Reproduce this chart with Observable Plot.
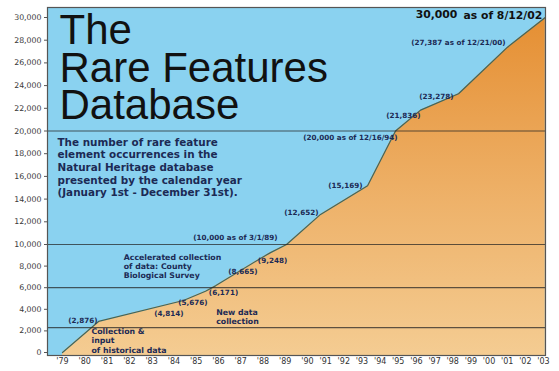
<!DOCTYPE html>
<html><head><meta charset="utf-8">
<script src="https://cdn.jsdelivr.net/npm/d3@7"></script>
<script src="https://cdn.jsdelivr.net/npm/@observablehq/plot@0.6"></script>
<style>
html,body{margin:0;padding:0;background:#fff;}
#chart{width:559px;height:371px;overflow:hidden;}
</style></head><body><div id="chart"></div>
<script>
// ---- data ----
const years = d3.range(1979, 2004);
const yTicks = d3.range(0, 30001, 2000);
const pointYears  = [1979.0, 1980.62, 1984.43, 1985.42, 1985.87, 1987.85, 1988.34, 1989.06, 1990.72, 1993.31, 1994.85, 1996.23, 1998.32, 2001.02, 2003.1];
const pointValues = [0, 2876, 4814, 5676, 6171, 8665, 9248, 10000, 12652, 15169, 20000, 21836, 23278, 27387, 30000];
const pointLabels = ["", "(2,876)", "(4,814)", "(5,676)", "(6,171)", "(8,665)", "(9,248)", "(10,000 as of 3/1/89)", "(12,652)", "(15,169)", "(20,000 as of 12/16/94)", "(21,836)", "(23,278)", "(27,387 as of 12/21/00)", "30,000"];
const lastNote = "as of 8/12/02";
const phaseLines = [2300, 6000, 10000, 20000];
const phaseNotes = [
  {text: "Collection &\ninput\nof historical data", year: 1980.3, value: 2300},
  {text: "New data\ncollection", year: 1985.9, value: 4100},
  {text: "Accelerated collection\nof data: County\nBiological Survey", year: 1981.75, value: 9200}
];
const titleLines = ["The", "Rare Features", "Database"];
const description = "The number of rare feature\nelement occurrences in the\nNatural Heritage database\npresented by the calendar year\n(January 1st - December 31st).";

const data = pointYears.map((y, i) => ({year: y, value: pointValues[i], label: pointLabels[i]}));

// ---- layout of labels (offsets in px) ----
const labelLayout = [null, [-1,-1,"end"], [0,13,"end"], [2,11,"end"], [8,7,"middle"], [-2,13,"end"], [2,8,"middle"], [-9,-7,"end"], [-2,-2,"end"], [-5,0,"end"], [2,7,"end"], [0,6,"end"], [-5,2.5,"end"], [-2,-4,"end"], null];

const navy = "#1c2a55";
const labelMarks = data.map((d, i) => labelLayout[i] ? Plot.text([d], {
  x: "year", y: "value", text: "label", dx: labelLayout[i][0], dy: labelLayout[i][1],
  textAnchor: labelLayout[i][2], fontSize: 7.2, fontWeight: "bold", fill: navy
}) : null).filter(Boolean);

const last = data[data.length - 1];

const chart = Plot.plot({
  width: 559, height: 371,
  marginLeft: 47, marginRight: 14, marginTop: 7, marginBottom: 16,
  style: {fontFamily: "DejaVu Sans", background: "transparent", overflow: "visible"},
  x: {type: "linear", domain: [1979, 1990, 2003], range: [62, 307, 543], label: null},
  y: {type: "linear", domain: [0, 10000, 30000], range: [352, 244, 17], label: null},
  marks: [
    Plot.frame({fill: "#8ad2f0"}),
    Plot.areaY(data, {x: "year", y1: () => -300, y2: "value", fill: "url(#og)", clip: "frame"}),
    Plot.lineY(data, {x: "year", y: "value", stroke: "#3d6660", strokeWidth: 1.2, clip: "frame"}),
    Plot.ruleY(phaseLines, {stroke: "#222", strokeOpacity: 0.72, strokeWidth: 1.2}),
    Plot.frame({stroke: "#555", strokeWidth: 1.2}),
    Plot.axisY({ticks: yTicks, tickFormat: d3.format(","), tickSize: 3, tickPadding: 3, fontSize: 7.8, stroke: "#555", fill: "#3a3a3a", label: null}),
    Plot.axisX({ticks: years, tickFormat: d => "'" + String(d).slice(2), tickSize: 0, tickPadding: 3, fontSize: 8, fill: "#333", label: null}),
    // title (one multi-line text)
    Plot.text([titleLines.join("\n")], {frameAnchor: "top-left", dx: 12, dy: 10, lineAnchor: "top", lineHeight: 0.893, fontSize: 42, fontFamily: "Liberation Sans", fill: "#111"}),
    Plot.text([description], {frameAnchor: "top-left", dx: 10, dy: 129, lineAnchor: "top", lineHeight: 1.22, fontSize: 10.4, fontWeight: "bold", fill: navy}),
    // phase notes
    Plot.text(phaseNotes, {x: "year", y: "value", text: "text", textAnchor: "start", lineAnchor: "top", lineHeight: 1.18, fontSize: 7.8, fontWeight: "bold", fill: navy}),
    ...labelMarks,
    Plot.text([last], {x: "year", y: "value", text: () => lastNote, textAnchor: "end", dx: -3, dy: -2, fontSize: 10.8, fontWeight: "bold", fill: "#111"}),
    Plot.text([last], {x: "year", y: "value", text: "label", textAnchor: "end", dx: -88, dy: -2.5, fontSize: 10.8, fontWeight: "bold", fill: "#111"})
  ]
});

d3.select(chart).insert("defs", ":first-child").html(
  '<linearGradient id="og" x1="0" y1="0" x2="0" y2="1"><stop offset="0" stop-color="#e58f33"/><stop offset="0.55" stop-color="#eeb26a"/><stop offset="1" stop-color="#f4cc92"/></linearGradient>'
);
document.getElementById("chart").appendChild(chart);
</script></body></html>
